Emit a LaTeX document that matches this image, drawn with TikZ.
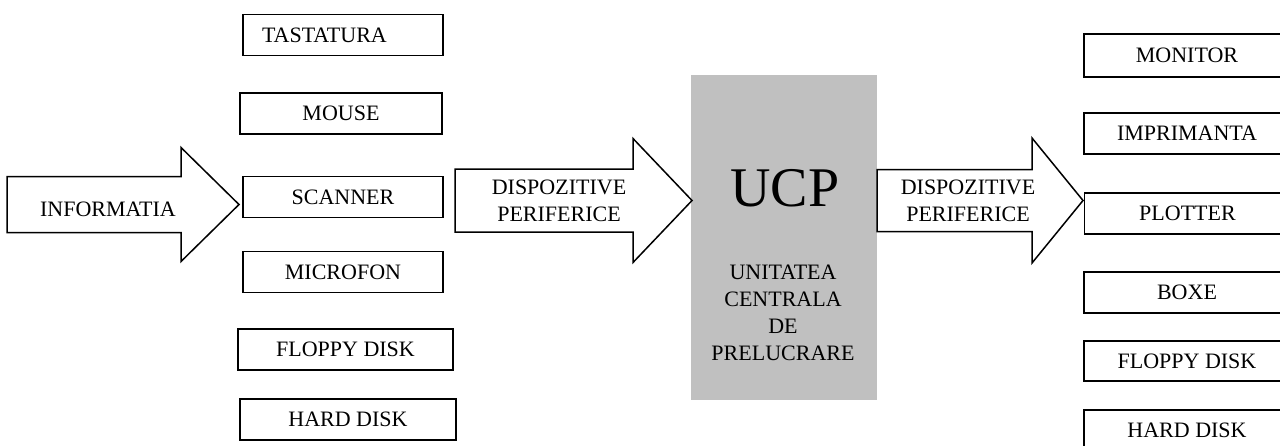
\documentclass[tikz,border=0pt]{standalone}
\usepackage{fontspec}
\setmainfont{Liberation Serif}
\definecolor{ucpgray}{RGB}{192,192,192}
% block arrow: tail x, neck x, tip x, middle y, half shaft, half head
\newcommand{\blockarrow}[6]{%
  \draw[line width=0.75pt, fill=white] (#1,#4-#5) -- (#2,#4-#5) -- (#2,#4-#6) -- (#3,#4)
    -- (#2,#4+#6) -- (#2,#4+#5) -- (#1,#4+#5) -- cycle;}

\begin{document}
\begin{tikzpicture}[x=0.5pt,y=-0.5pt,font=\fontsize{11}{13.5}\selectfont,
    devbox/.style={draw,line width=0.75pt,minimum width=100pt,minimum height=20.5pt,inner sep=0pt},
    arrowtext/.style={align=center,inner sep=0pt}]
    \useasboundingbox (0,0) rectangle (1280,445);
    \clip (0,0) rectangle (1280,445);

    % input devices
    \node[devbox,text width=81pt,inner xsep=9.5pt,align=left] (tast) at (343,35) {TASTATURA};
    \node[devbox,minimum width=101pt] (mouse) at (341,113.5) {MOUSE};
    \node[devbox] (scanner) at (343,197) {SCANNER};
    \node[devbox] (micro) at (343,272) {MICROFON};
    \node[devbox,minimum width=107.5pt] (floppyin) at (345.5,349.5) {FLOPPY DISK};
    \node[devbox,minimum width=108pt] (hardin) at (348,419.5) {HARD DISK};

    % central unit
    \node[fill=ucpgray,minimum width=93pt,minimum height=162.5pt,inner sep=0pt] (ucp) at (784,237.5) {};
    \node[font=\fontsize{28}{30}\selectfont,inner sep=0pt] (ucptitle) at (785,188) {UCP};
    \node[arrowtext] (ucpname) at (783,312.5) {UNITATEA\\CENTRALA\\DE\\PRELUCRARE};

    % output devices
    \node[devbox,minimum width=103pt,minimum height=21.5pt] (monitor) at (1187,55.5) {MONITOR};
    \node[devbox,minimum width=103pt] (imprim) at (1187,133.5) {IMPRIMANTA};
    \node[devbox,minimum width=103pt] (plotter) at (1187.5,213.5) {PLOTTER};
    \node[devbox,minimum width=103pt] (boxe) at (1187,292.5) {BOXE};
    \node[devbox,minimum width=103pt,minimum height=20pt] (floppyout) at (1187,361) {FLOPPY DISK};
    \node[devbox,minimum width=103pt] (hardout) at (1187,430.5) {HARD DISK};

    % big arrows
    \blockarrow{7}{181}{239}{204.5}{28}{57}
    \blockarrow{455}{633}{692}{200.5}{31.5}{62}
    \blockarrow{877}{1032}{1083}{200.5}{31}{62.5}
    \node[arrowtext] (info) at (108,209) {INFORMATIA};
    \node[arrowtext] (perin) at (559,200.5) {DISPOZITIVE\\PERIFERICE};
    \node[arrowtext] (perout) at (968,200.5) {DISPOZITIVE\\PERIFERICE};
\end{tikzpicture}
\end{document}
